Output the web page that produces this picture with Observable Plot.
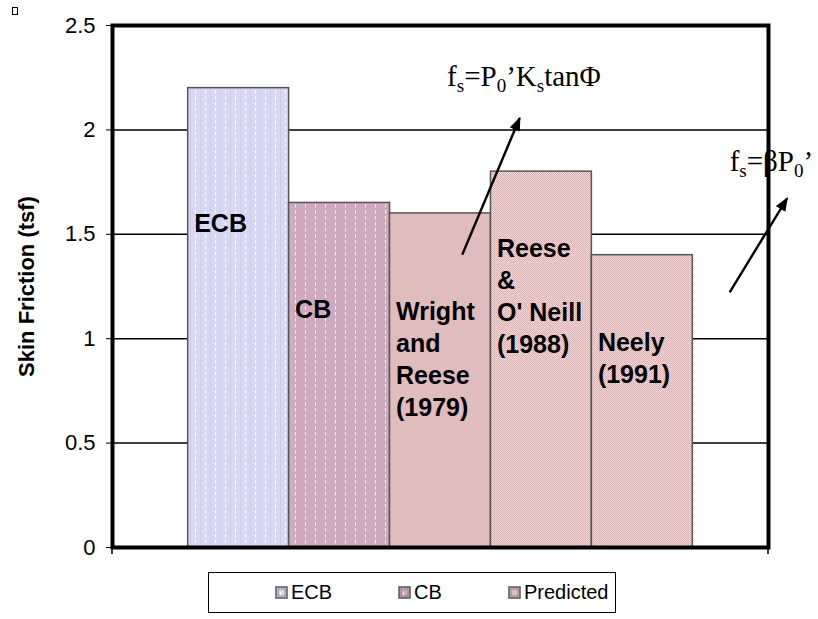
<!DOCTYPE html>
<html>
<head>
<meta charset="utf-8">
<script src="https://cdn.jsdelivr.net/npm/d3@7"></script>
<script src="https://cdn.jsdelivr.net/npm/@observablehq/plot@0.6"></script>
<style>
  body { margin: 0; background: #fff; font-family: "Liberation Sans", Arial, sans-serif; }
  #wrap { position: relative; width: 818px; height: 619px; overflow: hidden; }
  #corner { position: absolute; left: 12px; top: 7px; width: 4px; height: 6px; border: 1px solid #000; }
  #legend { position: absolute; left: 208px; top: 572px; width: 408px; height: 41px; border: 1.5px solid #000; box-sizing: border-box; }
  .item { position: absolute; top: 0; height: 38px; display: flex; align-items: center; font-size: 20px; color: #000; }
  .item svg { margin-right: 2px; }
</style>
</head>
<body>
<div id="wrap">
  <div id="corner"></div>
  <div id="chart"></div>
  <div id="legend"></div>
</div>
<script>
// ---- data ----
const categories = ["ECB", "CB", "Wright and Reese (1979)", "Reese & O' Neill (1988)", "Neely (1991)"];
const values = [2.2, 1.65, 1.6, 1.8, 1.4];
const groups = ["ECB", "CB", "Predicted", "Predicted", "Predicted"];
const barLabels = ["ECB", "CB", "Wright\nand\nReese\n(1979)", "Reese\n&\nO' Neill\n(1988)", "Neely\n(1991)"];
const labelAt = [1.62, 1.21, 1.2, 1.5, 1.05];   // tsf level of the label's first line
const yTicks = [0, 0.5, 1, 1.5, 2, 2.5];
const gridLevels = [0.5, 1, 1.5, 2];
const legendItems = ["ECB", "CB", "Predicted"];
const formulas = [
  {parts: [["f"], ["s", 1], ["=P"], ["0", 1], ["\u2019K"], ["s", 1], ["tan\u03A6"]], x: 2.57, y: 2.21},
  {parts: [["f"], ["s", 1], ["=\u03B2P"], ["0", 1], ["\u2019"]], x: 5.37, y: 1.8}
];
const arrows = [
  {x1: 2.72, y1: 1.4, x2: 3.29, y2: 2.055},
  {x1: 5.37, y1: 1.22, x2: 5.94, y2: 1.67}
];

const rows = categories.map((c, i) => ({cat: c, i, value: values[i], group: groups[i], label: barLabels[i], at: labelAt[i]}));

// ---- styles ----
const fillFor = d => d.group === "ECB" ? "url(#patECB)" : d.group === "CB" ? "url(#patCB)" : (d.i === 2 ? "#e0bcbc" : "url(#patPred)");

function defsMark() {
  const g = d3.create("svg:g");
  const defs = g.append("defs");
  const p1 = defs.append("pattern").attr("id", "patECB").attr("patternUnits", "userSpaceOnUse").attr("width", 10).attr("height", 6);
  p1.append("rect").attr("width", 10).attr("height", 6).attr("fill", "#d8d8f2");
  p1.append("line").attr("x1", 5.5).attr("x2", 5.5).attr("y1", 0).attr("y2", 3.5).attr("stroke", "#ffffff").attr("stroke-width", 1);
  p1.append("line").attr("x1", 0.5).attr("x2", 0.5).attr("y1", 0).attr("y2", 6).attr("stroke", "#cdcdec").attr("stroke-width", 1);
  const p2 = defs.append("pattern").attr("id", "patCB").attr("patternUnits", "userSpaceOnUse").attr("width", 10).attr("height", 6);
  p2.append("rect").attr("width", 10).attr("height", 6).attr("fill", "#cfaabf");
  p2.append("line").attr("x1", 5.5).attr("x2", 5.5).attr("y1", 0).attr("y2", 3.5).attr("stroke", "#f6eaf0").attr("stroke-width", 1);
  const p3 = defs.append("pattern").attr("id", "patPred").attr("patternUnits", "userSpaceOnUse").attr("width", 2).attr("height", 2);
  p3.append("rect").attr("width", 2).attr("height", 2).attr("fill", "#f2dada");
  p3.append("rect").attr("width", 1).attr("height", 1).attr("fill", "#dcaeae");
  p3.append("rect").attr("x", 1).attr("y", 1).attr("width", 1).attr("height", 1).attr("fill", "#dcaeae");
  const m = defs.append("marker").attr("id", "arrowHead").attr("viewBox", "0 0 10 10").attr("refX", 9).attr("refY", 5)
    .attr("markerWidth", 14).attr("markerHeight", 11).attr("markerUnits", "userSpaceOnUse").attr("orient", "auto")
    .attr("preserveAspectRatio", "none");
  m.append("path").attr("d", "M0,0L10,5L0,10z").attr("fill", "#000");
  return g.node();
}

function annotationMark(index, scales) {
  const g = d3.create("svg:g").attr("text-anchor", "start");
  for (const a of arrows) {
    g.append("line")
      .attr("x1", scales.x(a.x1)).attr("y1", scales.y(a.y1))
      .attr("x2", scales.x(a.x2)).attr("y2", scales.y(a.y2))
      .attr("stroke", "#000").attr("stroke-width", 2.4)
      .attr("marker-end", "url(#arrowHead)");
  }
  for (const f of formulas) {
    const t = g.append("text")
      .attr("x", scales.x(f.x)).attr("y", scales.y(f.y))
      .attr("text-anchor", "start")
      .attr("font-family", "'Liberation Serif', 'Times New Roman', serif")
      .attr("font-size", 29).attr("fill", "#000");
    let shifted = false;
    for (const [s, sub] of f.parts) {
      const ts = t.append("tspan").text(s);
      if (sub && !shifted) { ts.attr("dy", 6).attr("font-size", 19); shifted = true; }
      else if (!sub && shifted) { ts.attr("dy", -6); shifted = false; }
    }
  }
  return g.node();
}

function edgeTicks(index, scales, values, dim) {
  const g = d3.create("svg:g").attr("stroke", "#000").attr("stroke-width", 1.5);
  const yb = dim.height - dim.marginBottom;
  for (const x of [dim.marginLeft, dim.width - dim.marginRight]) {
    g.append("line").attr("x1", x).attr("x2", x).attr("y1", yb).attr("y2", yb + 7);
  }
  return g.node();
}

const chart = Plot.plot({
  width: 818,
  height: 565,
  marginTop: 25,
  marginBottom: 18,
  marginLeft: 112,
  marginRight: 50,
  style: {fontFamily: "'Liberation Sans', Arial, sans-serif", background: "transparent"},
  x: {domain: [-0.75, categories.length + 0.75], axis: null},
  y: {domain: [0, 2.5], axis: null},
  marks: [
    defsMark,
    Plot.ruleY(gridLevels, {stroke: "#000", strokeWidth: 1.5}),
    Plot.rectY(rows, {x1: "i", x2: d => d.i + 1, y1: 0, y2: "value", fill: fillFor, stroke: "#555", strokeWidth: 1.5}),
    Plot.text(rows, {x: "i", y: "at", text: "label", textAnchor: "start", lineAnchor: "top", dx: 6, fontSize: 25, fontWeight: "bold", lineHeight: 1.28, fill: "#000"}),
    annotationMark,
    Plot.axisY({ticks: yTicks, tickFormat: d => String(d), tickSize: 6, tickPadding: 11, fontSize: 22, label: null, stroke: "#000"}),
    Plot.text(["Skin Friction (tsf)"], {frameAnchor: "left", textAnchor: "middle", rotate: -90, dx: -86, fontSize: 22, fontWeight: "bold", fill: "#000"}),
    Plot.frame({stroke: "#000", strokeWidth: 4}),
    edgeTicks
  ]
});
document.getElementById("chart").appendChild(chart);

// ---- legend ----
const legendFill = {ECB: "url(#patECB)", CB: "url(#patCB)", Predicted: "#e0bcbc"};
const legendLeft = {ECB: 66, CB: 189, Predicted: 299};
const legend = document.getElementById("legend");
for (const name of legendItems) {
  const item = document.createElement("div");
  item.className = "item";
  item.style.left = legendLeft[name] + "px";
  item.innerHTML = `<svg width="14" height="13"><rect x="1" y="1" width="11" height="11" fill="${legendFill[name]}" stroke="#555" stroke-width="1.5"/><rect x="3" y="3" width="7" height="7" fill="none" stroke="#777" stroke-width="0.8"/></svg>` + name;
  legend.appendChild(item);
}
</script>
</body>
</html>
